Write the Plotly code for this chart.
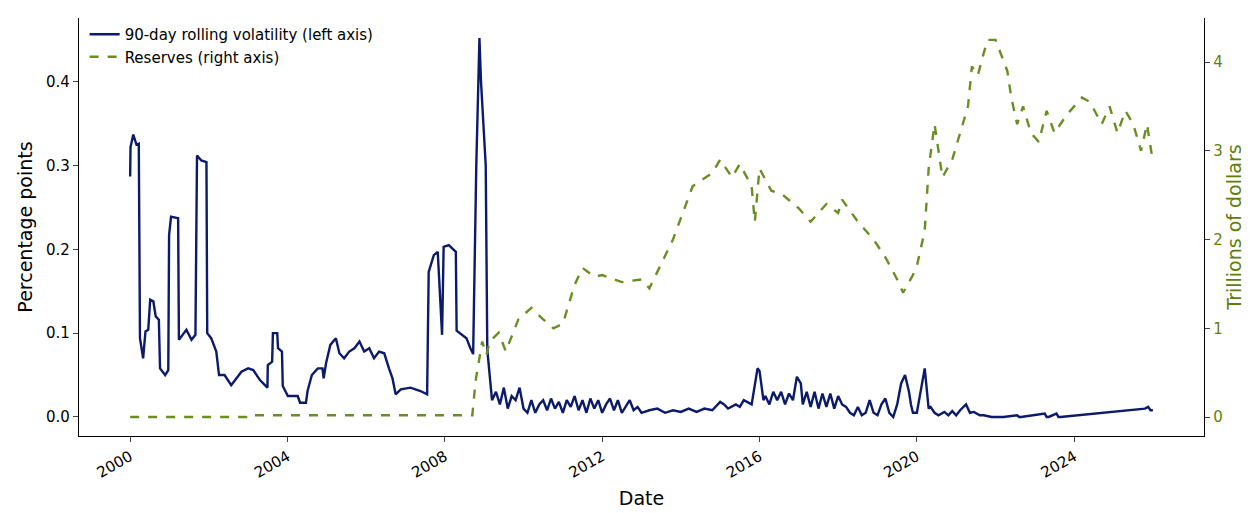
import plotly.graph_objects as go

# 90-day rolling volatility (percentage points), x in decimal years
vol_year = [2000.0, 2000.01, 2000.08, 2000.16, 2000.22, 2000.23, 2000.25, 2000.33, 2000.39, 2000.46,
            2000.51, 2000.59, 2000.65, 2000.73, 2000.76, 2000.89, 2000.97, 2000.99, 2001.04, 2001.22,
            2001.24, 2001.43, 2001.56, 2001.66, 2001.70, 2001.81, 2001.94, 2001.96, 2002.06, 2002.19,
            2002.26, 2002.40, 2002.57, 2002.83, 2003.0, 2003.13, 2003.30, 2003.49, 2003.50, 2003.61,
            2003.63, 2003.74, 2003.76, 2003.86, 2003.88, 2004.01, 2004.26, 2004.32, 2004.47, 2004.51,
            2004.62, 2004.77, 2004.89, 2004.92, 2004.98, 2005.09, 2005.23, 2005.32, 2005.44, 2005.57,
            2005.70, 2005.83, 2005.95, 2006.08, 2006.2, 2006.33, 2006.46, 2006.58, 2006.67, 2006.75,
            2006.88, 2007.13, 2007.38, 2007.55, 2007.59, 2007.72, 2007.82, 2007.93, 2007.97, 2008.1,
            2008.28, 2008.30, 2008.55, 2008.65, 2008.72, 2008.80, 2008.88, 2008.92, 2009.0, 2009.04,
            2009.08, 2009.14, 2009.2,
            2009.3, 2009.4, 2009.5, 2009.6, 2009.7, 2009.8, 2009.9, 2010.0, 2010.1, 2010.2,
            2010.3, 2010.4, 2010.5, 2010.6, 2010.7, 2010.8, 2010.9, 2011.0, 2011.1, 2011.2,
            2011.3, 2011.4, 2011.5, 2011.6, 2011.7, 2011.8, 2011.9, 2012.0, 2012.1, 2012.2,
            2012.3, 2012.4, 2012.5, 2012.6, 2012.7, 2012.8, 2012.9, 2013.0, 2013.2, 2013.4,
            2013.6, 2013.8, 2014.0, 2014.2, 2014.4, 2014.6, 2014.8, 2015.0, 2015.1, 2015.2,
            2015.4, 2015.5, 2015.6, 2015.8, 2015.95, 2016.0, 2016.1, 2016.15, 2016.25, 2016.35,
            2016.45, 2016.55, 2016.65, 2016.75, 2016.85, 2016.95, 2017.05, 2017.1, 2017.2, 2017.3,
            2017.4, 2017.5, 2017.6, 2017.7, 2017.8, 2017.9, 2018.0, 2018.1, 2018.2, 2018.3,
            2018.4, 2018.5, 2018.6, 2018.7, 2018.8, 2018.9, 2019.0, 2019.1, 2019.2, 2019.3,
            2019.4, 2019.5, 2019.6, 2019.7, 2019.8, 2019.85, 2019.9, 2020.0, 2020.1, 2020.2,
            2020.3, 2020.35, 2020.45, 2020.55, 2020.7, 2020.8, 2020.9, 2021.0, 2021.1, 2021.25,
            2021.35, 2021.45, 2021.6, 2021.7, 2021.9, 2022.2, 2022.55, 2022.6, 2022.65, 2023.25,
            2023.3, 2023.35, 2023.55, 2023.6, 2023.65, 2025.8, 2025.88, 2025.94, 2026.0]
vol_value = [0.287, 0.322, 0.337, 0.325, 0.326, 0.20, 0.094, 0.070, 0.102, 0.104,
             0.140, 0.138, 0.120, 0.116, 0.058, 0.050, 0.056, 0.217, 0.239, 0.237,
             0.092, 0.104, 0.092, 0.098, 0.312, 0.306, 0.304, 0.100, 0.094, 0.078,
             0.050, 0.050, 0.038, 0.054, 0.058, 0.056, 0.044, 0.035, 0.062, 0.066,
             0.100, 0.100, 0.082, 0.078, 0.037, 0.025, 0.025, 0.017, 0.017, 0.031,
             0.050, 0.058, 0.058, 0.046, 0.064, 0.086, 0.094, 0.076, 0.070, 0.078,
             0.082, 0.090, 0.078, 0.082, 0.070, 0.078, 0.076, 0.058, 0.046, 0.027,
             0.033, 0.035, 0.031, 0.027, 0.173, 0.193, 0.197, 0.098, 0.203, 0.205,
             0.197, 0.103, 0.094, 0.082, 0.075, 0.30, 0.452, 0.40, 0.33, 0.30,
             0.08, 0.05, 0.02,
             0.030, 0.015, 0.035, 0.010, 0.025, 0.020, 0.035, 0.010, 0.005, 0.020,
             0.005, 0.015, 0.020, 0.008, 0.022, 0.010, 0.018, 0.005, 0.020, 0.012,
             0.025, 0.008, 0.020, 0.005, 0.022, 0.010, 0.020, 0.005, 0.015, 0.022,
             0.008, 0.020, 0.005, 0.012, 0.020, 0.008, 0.012, 0.005, 0.008, 0.010,
             0.005, 0.008, 0.006, 0.010, 0.006, 0.010, 0.008, 0.018, 0.015, 0.010,
             0.015, 0.012, 0.020, 0.015, 0.058, 0.055, 0.020, 0.025, 0.015, 0.030,
             0.020, 0.030, 0.015, 0.028, 0.020, 0.048, 0.040, 0.015, 0.030, 0.012,
             0.030, 0.010, 0.028, 0.012, 0.028, 0.010, 0.025, 0.015, 0.012, 0.005,
             0.002, 0.012, 0.002, 0.005, 0.020, 0.005, 0.002, 0.015, 0.022, 0.005,
             0.000, 0.015, 0.040, 0.050, 0.030, 0.015, 0.005, 0.005, 0.030, 0.058,
             0.010, 0.012, 0.005, 0.002, 0.006, 0.002, 0.007, 0.002, 0.008, 0.015,
             0.005, 0.006, 0.002, 0.002, 0.000, 0.000, 0.002, 0.000, 0.000, 0.004,
             0.000, 0.000, 0.004, 0.000, 0.000, 0.010, 0.012, 0.008, 0.008]

# Reserves (trillions of dollars)
res_year = [2000.0, 2002.95, 2002.97, 2005.0, 2008.7, 2008.78, 2008.95, 2009.06, 2009.14, 2009.37,
            2009.55, 2009.87, 2010.2, 2010.5, 2010.76, 2011.0, 2011.3, 2011.5, 2011.8, 2012.0,
            2012.5, 2013.0, 2013.2, 2013.8, 2014.3, 2014.8, 2015.0, 2015.3, 2015.5, 2015.8,
            2015.88, 2016.0, 2016.3, 2016.6, 2017.0, 2017.3, 2017.7, 2018.0, 2018.1, 2018.5,
            2018.9, 2019.2, 2019.5, 2019.65, 2019.9, 2020.0, 2020.2, 2020.3, 2020.45, 2020.65,
            2020.9, 2021.1, 2021.3, 2021.4, 2021.55, 2021.7, 2021.8, 2022.0, 2022.2, 2022.3,
            2022.4, 2022.55, 2022.7, 2022.9, 2023.1, 2023.3, 2023.5, 2023.8, 2024.0, 2024.2,
            2024.4, 2024.7, 2024.9, 2025.1, 2025.3, 2025.5, 2025.7, 2025.85, 2026.0]
res_value = [0.0, 0.0, 0.02, 0.02, 0.02, 0.4, 0.85, 0.70, 0.85, 0.95,
             0.74, 1.10, 1.23, 1.10, 1.00, 1.05, 1.49, 1.68, 1.58, 1.60,
             1.52, 1.55, 1.45, 2.00, 2.60, 2.75, 2.90, 2.70, 2.85, 2.60,
             2.20, 2.80, 2.55, 2.50, 2.35, 2.20, 2.40, 2.30, 2.45, 2.20,
             2.00, 1.80, 1.55, 1.40, 1.60, 1.70, 2.10, 2.80, 3.30, 2.70,
             2.90, 3.20, 3.50, 3.95, 3.85, 4.10, 4.25, 4.25, 4.00, 3.90,
             3.60, 3.30, 3.50, 3.20, 3.10, 3.45, 3.20, 3.40, 3.50, 3.60,
             3.55, 3.30, 3.50, 3.20, 3.45, 3.30, 3.00, 3.30, 2.88]

year_ticks = [2000, 2004, 2008, 2012, 2016, 2020, 2024]

navy = "#0c1a6b"
olive = "#5f7f0c"

fig = go.Figure()
fig.add_trace(go.Scatter(x=vol_year, y=vol_value, mode="lines",
                         name="90-day rolling volatility (left axis)",
                         line=dict(color=navy, width=2.4)))
fig.add_trace(go.Scatter(x=res_year, y=res_value, mode="lines", yaxis="y2",
                         name="Reserves (right axis)",
                         line=dict(color="#6b8e23", width=2.4, dash="dash")))

fig.update_layout(
    width=1250, height=513,
    margin=dict(l=71, r=54, t=10, b=85),
    plot_bgcolor="white", paper_bgcolor="white",
    font=dict(family="DejaVu Sans", size=15, color="black"),
    showlegend=True,
    legend=dict(x=0.005, y=1.0, bgcolor="rgba(0,0,0,0)", font=dict(size=15)),
    xaxis=dict(range=[1998.7, 2027.3], tickvals=year_ticks, automargin=False,
               ticktext=[str(y) for y in year_ticks], tickangle=-30,
               ticks="outside", ticklen=5, showgrid=False, zeroline=False,
               showline=True, linecolor="black", linewidth=1.3,
               title=dict(text="Date", font=dict(size=19), standoff=10)),
    yaxis=dict(range=[-0.0227, 0.476], tickvals=[0, 0.1, 0.2, 0.3, 0.4],
               automargin=False,
               tickformat=".1f", ticks="outside", ticklen=5, showgrid=False,
               zeroline=False, showline=True, linecolor="black", linewidth=1.3,
               title=dict(text="Percentage points", font=dict(size=19), standoff=8)),
    yaxis2=dict(range=[-0.214, 4.496], tickvals=[0, 1, 2, 3, 4], overlaying="y",
                automargin=False,
                side="right", ticks="outside", ticklen=5, showgrid=False,
                zeroline=False, showline=True, linecolor="black", linewidth=1.3,
                tickfont=dict(color=olive),
                title=dict(text="Trillions of dollars", font=dict(size=19, color=olive),
                           standoff=6)),
)

fig.write_html("out.html")
